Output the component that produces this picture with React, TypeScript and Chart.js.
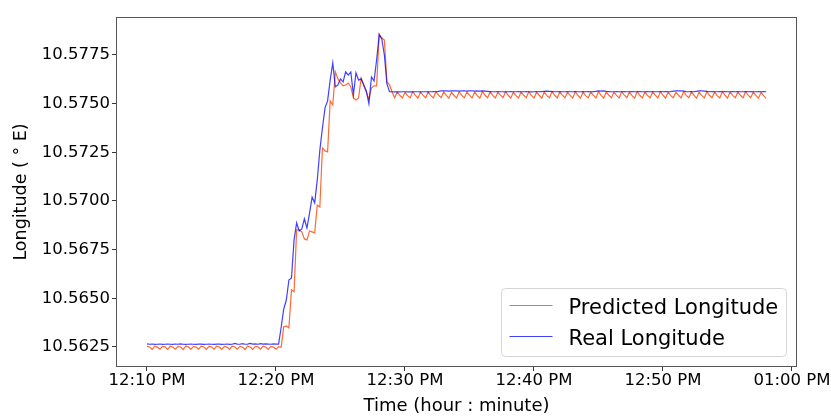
import React, { useEffect, useRef } from "react";
import { Chart, registerables } from "chart.js";

Chart.register(...registerables);

// Sampling grid: minutes after 12:00 PM
const SAMPLE_START_MIN = 10;
const SAMPLE_STEP_MIN = 0.2;

const X_TICKS = [10, 20, 30, 40, 50, 60];
const X_TICK_LABELS = ["12:10 PM", "12:20 PM", "12:30 PM", "12:40 PM", "12:50 PM", "01:00 PM"];
const Y_TICKS = [10.5625, 10.565, 10.5675, 10.57, 10.5725, 10.575, 10.5775];
const Y_TICK_LABELS = ["10.5625", "10.5650", "10.5675", "10.5700", "10.5725", "10.5750", "10.5775"];

const SERIES_LABELS = ["Predicted Longitude", "Real Longitude"];

const PREDICTED_LON = [
  10.56253, 10.56250, 10.56238, 10.56254, 10.56249, 10.56239, 10.56253, 10.56251, 10.56238, 10.56254,
  10.56250, 10.56239, 10.56253, 10.56250, 10.56237, 10.56254, 10.56251, 10.56238, 10.56253, 10.56249,
  10.56239, 10.56254, 10.56250, 10.56238, 10.56253, 10.56251, 10.56239, 10.56254, 10.56250, 10.56238,
  10.56253, 10.56249, 10.56238, 10.56254, 10.56251, 10.56239, 10.56253, 10.56250, 10.56237, 10.56254,
  10.56250, 10.56238, 10.56253, 10.56251, 10.56239, 10.56254, 10.56250, 10.56238, 10.56253, 10.56249,
  10.56239, 10.56252,
  10.56248, 10.56354, 10.56358, 10.56348, 10.56543, 10.56534, 10.56851, 10.56851,
  10.56841, 10.56805, 10.56800, 10.56846, 10.56841, 10.56836, 10.56979, 10.56969, 10.57272, 10.57257,
  10.57252, 10.57514, 10.57493, 10.57663, 10.57627, 10.57606, 10.57591, 10.57596, 10.57606, 10.57586,
  10.57529, 10.57519, 10.57529, 10.57632, 10.57596, 10.57560, 10.57524, 10.57580, 10.57591, 10.57591,
  10.57858, 10.57837, 10.57827, 10.57611, 10.57596, 10.57560, 10.57530,
  10.57560, 10.57543, 10.57529, 10.57558, 10.57541, 10.57530, 10.57561, 10.57544, 10.57528, 10.57559, 10.57542, 10.57530,
  10.57560, 10.57541, 10.57529, 10.57562, 10.57544, 10.57530, 10.57560, 10.57542, 10.57528, 10.57558, 10.57543, 10.57529,
  10.57561, 10.57542, 10.57530, 10.57559, 10.57544, 10.57529, 10.57560, 10.57541, 10.57528, 10.57562, 10.57543, 10.57530,
  10.57560, 10.57542, 10.57529, 10.57558, 10.57544, 10.57530, 10.57561, 10.57543, 10.57528, 10.57559, 10.57541, 10.57529,
  10.57560, 10.57544, 10.57530, 10.57561, 10.57542, 10.57529, 10.57559, 10.57543, 10.57528, 10.57560, 10.57541, 10.57530,
  10.57562, 10.57543, 10.57529, 10.57560, 10.57544, 10.57530, 10.57558, 10.57542, 10.57529, 10.57561, 10.57543, 10.57528,
  10.57560, 10.57541, 10.57530, 10.57559, 10.57544, 10.57529, 10.57561, 10.57542, 10.57528, 10.57560, 10.57543, 10.57530,
  10.57558, 10.57542, 10.57529, 10.57561, 10.57544, 10.57530, 10.57560, 10.57541, 10.57528, 10.57562, 10.57543, 10.57529,
  10.57560, 10.57542, 10.57530, 10.57559, 10.57544, 10.57529, 10.57561, 10.57543, 10.57528, 10.57560, 10.57541, 10.57530,
  10.57558, 10.57543, 10.57529, 10.57561, 10.57542, 10.57530, 10.57560, 10.57544, 10.57528, 10.57559, 10.57542, 10.57529,
  10.57561, 10.57543, 10.57530, 10.57560, 10.57541, 10.57529, 10.57562, 10.57544, 10.57528, 10.57560, 10.57542, 10.57530,
  10.57559, 10.57543, 10.57529, 10.57561, 10.57544, 10.57530, 10.57560, 10.57542, 10.57528, 10.57558, 10.57541, 10.57527,
];

const REAL_LON = [
  10.56266, 10.56264, 10.56265, 10.56263, 10.56264, 10.56265, 10.56263, 10.56264, 10.56265, 10.56264,
  10.56263, 10.56265, 10.56264, 10.56266, 10.56264, 10.56263, 10.56264, 10.56265, 10.56264, 10.56263,
  10.56264, 10.56264, 10.56263, 10.56264, 10.56265, 10.56264, 10.56263, 10.56264, 10.56264, 10.56263,
  10.56264, 10.56265, 10.56263, 10.56264, 10.56268, 10.56265, 10.56264, 10.56267, 10.56264, 10.56265,
  10.56268, 10.56265, 10.56266, 10.56264, 10.56267, 10.56265, 10.56266, 10.56265, 10.56264, 10.56266,
  10.56265, 10.56265,
  10.56350, 10.56445, 10.56491, 10.56594, 10.56604, 10.56800, 10.56887, 10.56846,
  10.56856, 10.56908, 10.56861, 10.56938, 10.57020, 10.56990, 10.57108, 10.57262, 10.57375, 10.57478,
  10.57514, 10.57621, 10.57709, 10.57586, 10.57596, 10.57627, 10.57611, 10.57663, 10.57647, 10.57663,
  10.57545, 10.57658, 10.57621, 10.57627, 10.57596, 10.57565, 10.57500, 10.57637, 10.57616, 10.57724,
  10.57853, 10.57832, 10.57750, 10.57601, 10.57561,
  10.57561, 10.57560, 10.57561, 10.57560, 10.57561, 10.57561, 10.57560, 10.57561, 10.57560, 10.57561,
  10.57561, 10.57560, 10.57561, 10.57561, 10.57560, 10.57561, 10.57562, 10.57561, 10.57563, 10.57565,
  10.57566, 10.57565, 10.57564, 10.57565, 10.57566, 10.57565, 10.57564, 10.57566, 10.57565, 10.57564,
  10.57565, 10.57566, 10.57564, 10.57565, 10.57564, 10.57565, 10.57564, 10.57563, 10.57562, 10.57561,
  10.57561, 10.57562, 10.57561, 10.57561, 10.57560, 10.57561, 10.57562, 10.57561, 10.57561, 10.57562,
  10.57561, 10.57561, 10.57562, 10.57561, 10.57560, 10.57561, 10.57562, 10.57561, 10.57562, 10.57563,
  10.57564, 10.57563, 10.57562, 10.57561, 10.57561, 10.57562, 10.57561, 10.57561, 10.57562, 10.57561,
  10.57561, 10.57562, 10.57561, 10.57561, 10.57562, 10.57561, 10.57562, 10.57561, 10.57562, 10.57563,
  10.57565, 10.57564, 10.57565, 10.57563, 10.57562, 10.57561, 10.57561, 10.57562, 10.57561, 10.57561,
  10.57562, 10.57561, 10.57561, 10.57562, 10.57561, 10.57561, 10.57562, 10.57561, 10.57561, 10.57562,
  10.57561, 10.57562, 10.57561, 10.57561, 10.57562, 10.57561, 10.57562, 10.57561, 10.57562, 10.57564,
  10.57565, 10.57566, 10.57565, 10.57564, 10.57562, 10.57561, 10.57562, 10.57561, 10.57563, 10.57565,
  10.57565, 10.57564, 10.57563, 10.57561, 10.57562, 10.57561, 10.57561, 10.57562, 10.57561, 10.57562,
  10.57561, 10.57561, 10.57562, 10.57561, 10.57562, 10.57561, 10.57561, 10.57562, 10.57561, 10.57562,
  10.57561, 10.57561, 10.57562, 10.57561, 10.57562, 10.57561,
];

const PRED_COLOR = "rgba(255, 69, 0, 0.8)";
const REAL_COLOR = "rgba(0, 0, 255, 0.75)";
const FONT = "DejaVu Sans";

const toPoints = (vals: number[]) =>
  vals.map((v, i) => ({ x: SAMPLE_START_MIN + i * SAMPLE_STEP_MIN, y: v }));

const frameLegendPlugin = {
  id: "frameLegend",
  afterDraw(chart: any) {
    const { ctx, chartArea: a } = chart;
    ctx.save();
    // axes frame
    ctx.strokeStyle = "#555";
    ctx.lineWidth = 1;
    const l = Math.round(a.left) + 0.5;
    const t = Math.round(a.top) + 0.5;
    const r = Math.round(a.right) - 0.5;
    const b = Math.round(a.bottom) - 0.5;
    ctx.strokeRect(l, t, r - l, b - t);

    // legend
    const w = 285, h = 68;
    const bx = Math.round(a.right) - 11 - w + 0.5;
    const by = Math.round(a.bottom) - 11 - h + 0.5;
    ctx.beginPath();
    if ((ctx as any).roundRect) (ctx as any).roundRect(bx, by, w, h, 4);
    else ctx.rect(bx, by, w, h);
    ctx.fillStyle = "rgba(255,255,255,0.8)";
    ctx.fill();
    ctx.strokeStyle = "#d4d4d4";
    ctx.stroke();

    const ds = chart.data.datasets;
    const rows = [ds[0], ds[1]];
    ctx.font = `21px "${FONT}"`;
    ctx.textBaseline = "alphabetic";
    ctx.textAlign = "left";
    rows.forEach((d: any, k: number) => {
      const ly = by + 17 + k * 31;
      ctx.beginPath();
      ctx.strokeStyle = d.borderColor;
      ctx.lineWidth = 1.2;
      ctx.moveTo(bx + 8, ly);
      ctx.lineTo(bx + 51, ly);
      ctx.stroke();
      ctx.fillStyle = "#000";
      ctx.fillText(d.label, bx + 67, ly + 8);
    });
    ctx.restore();
  },
};

export default function App() {
  const ref = useRef<HTMLCanvasElement | null>(null);

  useEffect(() => {
    if (!ref.current) return;
    const chart = new Chart(ref.current, {
      type: "line",
      data: {
        datasets: [
          {
            label: SERIES_LABELS[0],
            data: toPoints(PREDICTED_LON),
            borderColor: PRED_COLOR,
            backgroundColor: PRED_COLOR,
            borderWidth: 1.2,
            pointRadius: 0,
            tension: 0,
            order: 2,
          },
          {
            label: SERIES_LABELS[1],
            data: toPoints(REAL_LON),
            borderColor: REAL_COLOR,
            backgroundColor: REAL_COLOR,
            borderWidth: 1.2,
            pointRadius: 0,
            tension: 0,
            order: 1,
          },
        ],
      },
      options: {
        responsive: false,
        animation: false,
        devicePixelRatio: 1,
        layout: { padding: { left: 0, top: 17, right: 34, bottom: 0 } },
        plugins: { legend: { display: false }, tooltip: { enabled: false } },
        scales: {
          x: {
            type: "linear",
            min: 7.597,
            max: 60.388,
            afterBuildTicks: (s: any) => {
              s.ticks = X_TICKS.map((v) => ({ value: v }));
            },
            afterFit: (s: any) => {
              s.height = 52;
              s.paddingLeft = 0;
              s.paddingRight = 0;
            },
            ticks: {
              callback: (_v: any, i: number) => X_TICK_LABELS[i],
              font: { family: FONT, size: 16.5 },
              color: "#000",
              padding: 0,
              maxRotation: 0,
              autoSkip: false,
            },
            grid: { drawOnChartArea: false, drawTicks: true, tickLength: 4, color: "#333" },
            border: { display: false },
            title: {
              display: true,
              text: "Time (hour : minute)",
              font: { family: FONT, size: 18 },
              color: "#000",
              padding: { top: 0, bottom: 1.5 },
            },
          },
          y: {
            type: "linear",
            min: 10.56147,
            max: 10.57945,
            afterBuildTicks: (s: any) => {
              s.ticks = Y_TICKS.map((v) => ({ value: v }));
            },
            afterFit: (s: any) => {
              s.width = 116;
              s.paddingTop = 0;
              s.paddingBottom = 0;
            },
            ticks: {
              callback: (_v: any, i: number) => Y_TICK_LABELS[i],
              font: { family: FONT, size: 16.5 },
              color: "#000",
              padding: 2,
            },
            grid: { drawOnChartArea: false, drawTicks: true, tickLength: 4, color: "#333" },
            border: { display: false },
            title: {
              display: true,
              text: "Longitude ( ° E)",
              font: { family: FONT, size: 17.5 },
              color: "#000",
              padding: { top: 11, bottom: 0 },
            },
          },
        },
      },
      plugins: [frameLegendPlugin],
    });
    return () => chart.destroy();
  }, []);

  return (
    <div style={{ position: "fixed", left: 0, top: 0, width: 831, height: 419, background: "#fff" }}>
      <canvas ref={ref} width={831} height={419} style={{ display: "block" }} />
    </div>
  );
}
